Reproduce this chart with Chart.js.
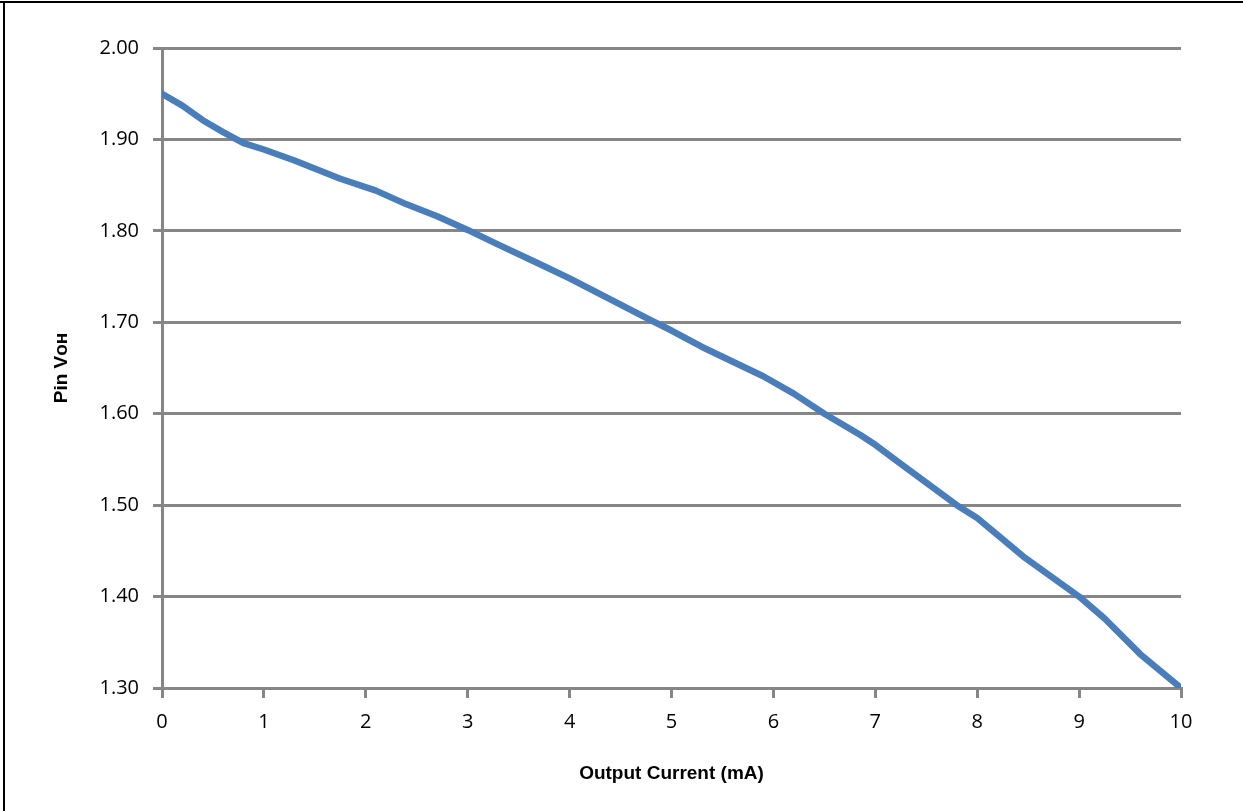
<!DOCTYPE html>
<html>
<head>
<meta charset="utf-8">
<script src="https://cdn.jsdelivr.net/npm/chart.js@4/dist/chart.umd.min.js"></script>
<style>
  html, body { margin: 0; padding: 0; background: #fff; }
  #wrap { position: relative; width: 1243px; height: 811px; overflow: hidden; }
  #c { position: absolute; left: 0; top: 0; }
  #bt { position: absolute; left: 0; top: 1px; width: 1243px; height: 2px; background: #000; }
  #bl { position: absolute; left: 3px; top: 1px; width: 2px; height: 811px; background: #000; }
</style>
</head>
<body>
<div id="wrap">
  <canvas id="c" width="1243" height="811"></canvas>
  <div id="bt"></div>
  <div id="bl"></div>
</div>
<script>
// Output current (mA)
const currentMA = [0, 0.2, 0.4, 0.6, 0.8, 1.0, 1.3, 1.75, 2.1, 2.4, 2.7, 3.0, 3.3, 3.7, 4.0, 4.4, 4.8, 5.0, 5.3, 5.9, 6.2, 6.5, 6.85, 7.0, 7.3, 7.8, 8.0, 8.45, 9.0, 9.25, 9.6, 10.0];
// Pin VOH (V)
const pinVoh = [1.950, 1.937, 1.921, 1.908, 1.896, 1.889, 1.877, 1.857, 1.844, 1.829, 1.816, 1.801, 1.785, 1.764, 1.748, 1.725, 1.702, 1.691, 1.673, 1.641, 1.622, 1.600, 1.577, 1.566, 1.541, 1.500, 1.486, 1.444, 1.400, 1.376, 1.337, 1.300];
const xTicks = [0, 1, 2, 3, 4, 5, 6, 7, 8, 9, 10];
const yTicks = [1.30, 1.40, 1.50, 1.60, 1.70, 1.80, 1.90, 2.00];
const xTitle = 'Output Current (mA)';
const yTitle = 'Pin V\u1D0F\u029C';

const points = currentMA.map((x, i) => ({ x: x, y: pinVoh[i] }));
const gridGray = '#868686';
const tickFont = { family: '"Open Sans", Lato, sans-serif', size: 20 };
const titleFont = { family: '"Liberation Sans", Arial, sans-serif', size: 19, weight: 'bold' };

new Chart(document.getElementById('c'), {
  type: 'line',
  data: {
    datasets: [{
      data: points,
      borderColor: '#4a7ebb',
      borderWidth: 6.5,
      pointRadius: 0,
      tension: 0,
      borderCapStyle: 'round',
      borderJoinStyle: 'round',
      fill: false
    }]
  },
  options: {
    responsive: false,
    animation: false,
    devicePixelRatio: 1,
    layout: { padding: { left: 0, top: 48, right: 62, bottom: 0 } },
    plugins: { legend: { display: false }, tooltip: { enabled: false } },
    scales: {
      x: {
        type: 'linear',
        min: xTicks[0],
        max: xTicks[xTicks.length - 1],
        afterBuildTicks: (s) => { s.ticks = xTicks.map(v => ({ value: v })); },
        afterFit: (s) => { s.height = 123; },
        ticks: { color: '#000', font: tickFont, padding: 12, maxRotation: 0,
                 callback: (v) => String(v) },
        grid: { drawOnChartArea: false, drawTicks: true, tickLength: 10,
                color: gridGray, lineWidth: 3 },
        border: { display: true, color: gridGray, width: 3 },
        title: { display: true, text: xTitle, color: '#000', font: titleFont,
                 padding: { top: 0, bottom: 26 } }
      },
      y: {
        type: 'linear',
        min: yTicks[0],
        max: yTicks[yTicks.length - 1],
        afterBuildTicks: (s) => { s.ticks = yTicks.map(v => ({ value: v })); },
        afterFit: (s) => { s.width = 162; },
        ticks: { color: '#000', font: tickFont, padding: 14,
                 callback: (v) => Number(v).toFixed(2) },
        grid: { drawOnChartArea: true, drawTicks: true, tickLength: 9,
                color: gridGray, lineWidth: 3 },
        border: { display: true, color: gridGray, width: 3 },
        title: { display: true, text: yTitle, color: '#000', font: titleFont,
                 padding: { top: 50, bottom: 0 } }
      }
    }
  }
});
</script>
</body>
</html>
